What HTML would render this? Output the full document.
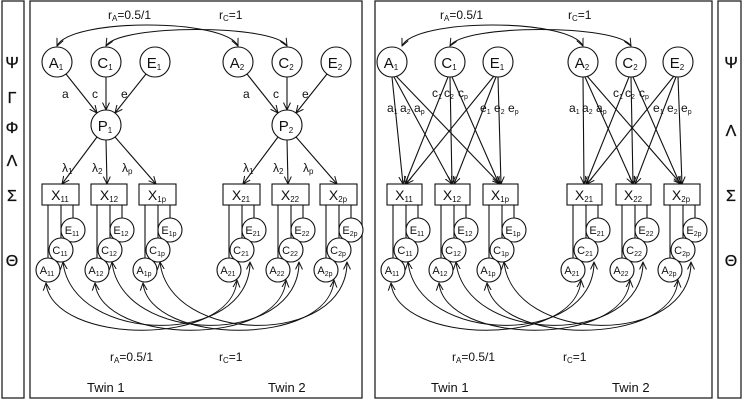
<!DOCTYPE html>
<html><head><meta charset="utf-8"><style>
html,body{margin:0;padding:0;background:#fff}
svg{display:block}
text{font-family:"Liberation Sans","DejaVu Sans",sans-serif;fill:#111}
</style></head><body>
<svg width="743" height="400" viewBox="0 0 743 400" xmlns="http://www.w3.org/2000/svg">
<defs>
<marker id="ar" viewBox="0 0 8 8" refX="7.5" refY="4" markerWidth="8" markerHeight="8" markerUnits="userSpaceOnUse" orient="auto-start-reverse">
<path d="M0,0.5 L7.5,4 L0,7.5" fill="none" stroke="#111" stroke-width="1"/></marker>
</defs>
<g fill="none" stroke="#222" stroke-width="1.3">
<rect x="2" y="1" width="22" height="397"/>
<rect x="30" y="1" width="332" height="397"/>
<rect x="375" y="1" width="337" height="397"/>
<rect x="718" y="1" width="23" height="397"/>
</g>
<g style="font-family:'Liberation Serif','DejaVu Serif',serif" font-size="16" text-anchor="middle" stroke="#111" stroke-width="0.3">
<text x="12" y="68">Ψ</text><text x="12" y="103">Γ</text><text x="12" y="133">Φ</text><text x="12" y="166">Λ</text><text x="12" y="201">Σ</text><text x="12" y="266">Θ</text>
<text x="731" y="68">Ψ</text><text x="731" y="136">Λ</text><text x="731" y="201">Σ</text><text x="731" y="266">Θ</text>
</g>
<g fill="none" stroke="#111" stroke-width="1.1">
<path d="M57,46 C70,18 225,18 238,46" marker-start="url(#ar)" marker-end="url(#ar)"/>
<path d="M106,46 C119,24 274,24 287,46" marker-start="url(#ar)" marker-end="url(#ar)"/>
<path d="M402,46 C415,18 570,18 583,46" marker-start="url(#ar)" marker-end="url(#ar)"/>
<path d="M450,46 C463,24 618,24 631,46" marker-start="url(#ar)" marker-end="url(#ar)"/>
<circle cx="57" cy="62" r="15"/><circle cx="106" cy="62" r="15"/><circle cx="155" cy="62" r="15"/>
<circle cx="238" cy="62" r="15"/><circle cx="287" cy="62" r="15"/><circle cx="336" cy="62" r="15"/>
<circle cx="106" cy="125" r="15"/><circle cx="287" cy="125" r="15"/>
<circle cx="392" cy="62" r="15"/><circle cx="450" cy="62" r="15"/><circle cx="498" cy="62" r="15"/>
<circle cx="583" cy="62" r="15"/><circle cx="631" cy="62" r="15"/><circle cx="678" cy="62" r="15"/>
<path d="M66,74 L97,113" marker-end="url(#ar)"/><path d="M106,77 L106,110" marker-end="url(#ar)"/><path d="M146,74 L115,113" marker-end="url(#ar)"/>
<path d="M247,74 L278,113" marker-end="url(#ar)"/><path d="M287,77 L287,110" marker-end="url(#ar)"/><path d="M327,74 L296,113" marker-end="url(#ar)"/>
<path d="M97,137 L62,184" marker-end="url(#ar)"/><path d="M106,140 L107,184" marker-end="url(#ar)"/><path d="M115,137 L156,184" marker-end="url(#ar)"/>
<path d="M278,137 L243,184" marker-end="url(#ar)"/><path d="M287,140 L288,184" marker-end="url(#ar)"/><path d="M296,137 L337,184" marker-end="url(#ar)"/>
<path d="M392,77 L403,184" marker-end="url(#ar)"/><path d="M394,77 L452,184" marker-end="url(#ar)"/><path d="M396,76 L500,184" marker-end="url(#ar)"/>
<path d="M448,77 L405,184" marker-end="url(#ar)"/><path d="M450,77 L452,184" marker-end="url(#ar)"/><path d="M452,77 L499,184" marker-end="url(#ar)"/>
<path d="M494,76 L406,184" marker-end="url(#ar)"/><path d="M496,77 L454,184" marker-end="url(#ar)"/><path d="M498,77 L501,184" marker-end="url(#ar)"/>
<path d="M583,77 L584,184" marker-end="url(#ar)"/><path d="M585,77 L633,184" marker-end="url(#ar)"/><path d="M587,76 L681,184" marker-end="url(#ar)"/>
<path d="M629,77 L586,184" marker-end="url(#ar)"/><path d="M631,77 L633,184" marker-end="url(#ar)"/><path d="M633,77 L680,184" marker-end="url(#ar)"/>
<path d="M674,76 L587,184" marker-end="url(#ar)"/><path d="M676,77 L635,184" marker-end="url(#ar)"/><path d="M678,77 L682,184" marker-end="url(#ar)"/>
<rect x="42" y="184" width="37" height="21"/><rect x="91" y="184" width="36" height="21"/><rect x="139" y="184" width="37" height="21"/>
<rect x="223" y="184" width="37" height="21"/><rect x="272" y="184" width="37" height="21"/><rect x="320" y="184" width="37" height="21"/>
<rect x="387" y="184" width="35" height="21"/><rect x="435" y="184" width="35" height="21"/><rect x="483" y="184" width="35" height="21"/>
<rect x="567" y="184" width="35" height="21"/><rect x="616" y="184" width="35" height="21"/><rect x="664" y="184" width="36" height="21"/>
</g>
<g fill="none" stroke="#111" stroke-width="1.1">
<path d="M48,258V205M61,238V205M73,218V205 M97,258V205M110,238V205M122,218V205 M145,258V205M158,238V205M170,218V205 M229,258V205M242,238V205M254,218V205 M278,258V205M291,238V205M303,218V205 M326,258V205M339,238V205M351,218V205" />
<path d="M393,258V205M406,238V205M418,218V205 M441,258V205M454,238V205M466,218V205 M489,258V205M502,238V205M514,218V205 M573,258V205M586,238V205M598,218V205 M622,258V205M635,238V205M647,218V205 M670,258V205M683,238V205M695,218V205" />
</g>
<g fill="#fff" stroke="#111" stroke-width="1.1">
<circle cx="73" cy="230" r="12"/><circle cx="61" cy="250" r="12"/><circle cx="48" cy="270" r="12"/>
<circle cx="122" cy="230" r="12"/><circle cx="110" cy="250" r="12"/><circle cx="97" cy="270" r="12"/>
<circle cx="170" cy="230" r="12"/><circle cx="158" cy="250" r="12"/><circle cx="145" cy="270" r="12"/>
<circle cx="254" cy="230" r="12"/><circle cx="242" cy="250" r="12"/><circle cx="229" cy="270" r="12"/>
<circle cx="303" cy="230" r="12"/><circle cx="291" cy="250" r="12"/><circle cx="278" cy="270" r="12"/>
<circle cx="351" cy="230" r="12"/><circle cx="339" cy="250" r="12"/><circle cx="326" cy="270" r="12"/>
<circle cx="418" cy="230" r="12"/><circle cx="406" cy="250" r="12"/><circle cx="393" cy="270" r="12"/>
<circle cx="466" cy="230" r="12"/><circle cx="454" cy="250" r="12"/><circle cx="441" cy="270" r="12"/>
<circle cx="514" cy="230" r="12"/><circle cx="502" cy="250" r="12"/><circle cx="489" cy="270" r="12"/>
<circle cx="598" cy="230" r="12"/><circle cx="586" cy="250" r="12"/><circle cx="573" cy="270" r="12"/>
<circle cx="647" cy="230" r="12"/><circle cx="635" cy="250" r="12"/><circle cx="622" cy="270" r="12"/>
<circle cx="695" cy="230" r="12"/><circle cx="683" cy="250" r="12"/><circle cx="670" cy="270" r="12"/>
</g>
<g fill="none" stroke="#111" stroke-width="1">
<path d="M46,283 C52,345 232,348 237,280" marker-start="url(#ar)" marker-end="url(#ar)"/>
<path d="M63,262 C72,345 250,348 250,262" marker-start="url(#ar)" marker-end="url(#ar)"/>
<path d="M95,283 C101,345 281,348 286,280" marker-start="url(#ar)" marker-end="url(#ar)"/>
<path d="M112,262 C121,345 299,348 299,262" marker-start="url(#ar)" marker-end="url(#ar)"/>
<path d="M143,283 C149,345 329,348 334,280" marker-start="url(#ar)" marker-end="url(#ar)"/>
<path d="M160,262 C169,345 347,348 347,262" marker-start="url(#ar)" marker-end="url(#ar)"/>
<path d="M391,283 C397,345 576,348 581,280" marker-start="url(#ar)" marker-end="url(#ar)"/>
<path d="M408,262 C417,345 594,348 594,262" marker-start="url(#ar)" marker-end="url(#ar)"/>
<path d="M439,283 C445,345 625,348 630,280" marker-start="url(#ar)" marker-end="url(#ar)"/>
<path d="M456,262 C465,345 643,348 643,262" marker-start="url(#ar)" marker-end="url(#ar)"/>
<path d="M487,283 C493,345 673,348 678,280" marker-start="url(#ar)" marker-end="url(#ar)"/>
<path d="M504,262 C513,345 691,348 691,262" marker-start="url(#ar)" marker-end="url(#ar)"/>
</g>
<g font-size="15" text-anchor="middle">
<text x="56" y="68">A<tspan font-size="8" dy="2">1</tspan></text>
<text x="105" y="68">C<tspan font-size="8" dy="2">1</tspan></text>
<text x="154" y="68">E<tspan font-size="8" dy="2">1</tspan></text>
<text x="237" y="68">A<tspan font-size="8" dy="2">2</tspan></text>
<text x="286" y="68">C<tspan font-size="8" dy="2">2</tspan></text>
<text x="335" y="68">E<tspan font-size="8" dy="2">2</tspan></text>
<text x="105" y="131">P<tspan font-size="8" dy="2">1</tspan></text>
<text x="286" y="131">P<tspan font-size="8" dy="2">2</tspan></text>
<text x="391" y="68">A<tspan font-size="8" dy="2">1</tspan></text>
<text x="449" y="68">C<tspan font-size="8" dy="2">1</tspan></text>
<text x="497" y="68">E<tspan font-size="8" dy="2">1</tspan></text>
<text x="582" y="68">A<tspan font-size="8" dy="2">2</tspan></text>
<text x="630" y="68">C<tspan font-size="8" dy="2">2</tspan></text>
<text x="677" y="68">E<tspan font-size="8" dy="2">2</tspan></text>
</g>
<g font-size="14" text-anchor="middle">
<text x="60" y="200">X<tspan font-size="8" dy="2">11</tspan></text>
<text x="109" y="200">X<tspan font-size="8" dy="2">12</tspan></text>
<text x="157" y="200">X<tspan font-size="8" dy="2">1p</tspan></text>
<text x="241" y="200">X<tspan font-size="8" dy="2">21</tspan></text>
<text x="290" y="200">X<tspan font-size="8" dy="2">22</tspan></text>
<text x="338" y="200">X<tspan font-size="8" dy="2">2p</tspan></text>
<text x="404" y="200">X<tspan font-size="8" dy="2">11</tspan></text>
<text x="452" y="200">X<tspan font-size="8" dy="2">12</tspan></text>
<text x="500" y="200">X<tspan font-size="8" dy="2">1p</tspan></text>
<text x="584" y="200">X<tspan font-size="8" dy="2">21</tspan></text>
<text x="633" y="200">X<tspan font-size="8" dy="2">22</tspan></text>
<text x="681" y="200">X<tspan font-size="8" dy="2">2p</tspan></text>
</g>
<g font-size="11" text-anchor="middle">
<text x="72" y="234">E<tspan font-size="7" dy="2">11</tspan></text><text x="60" y="254">C<tspan font-size="7" dy="2">11</tspan></text><text x="47" y="274">A<tspan font-size="7" dy="2">11</tspan></text>
<text x="121" y="234">E<tspan font-size="7" dy="2">12</tspan></text><text x="109" y="254">C<tspan font-size="7" dy="2">12</tspan></text><text x="96" y="274">A<tspan font-size="7" dy="2">12</tspan></text>
<text x="169" y="234">E<tspan font-size="7" dy="2">1p</tspan></text><text x="157" y="254">C<tspan font-size="7" dy="2">1p</tspan></text><text x="144" y="274">A<tspan font-size="7" dy="2">1p</tspan></text>
<text x="253" y="234">E<tspan font-size="7" dy="2">21</tspan></text><text x="241" y="254">C<tspan font-size="7" dy="2">21</tspan></text><text x="228" y="274">A<tspan font-size="7" dy="2">21</tspan></text>
<text x="302" y="234">E<tspan font-size="7" dy="2">22</tspan></text><text x="290" y="254">C<tspan font-size="7" dy="2">22</tspan></text><text x="277" y="274">A<tspan font-size="7" dy="2">22</tspan></text>
<text x="350" y="234">E<tspan font-size="7" dy="2">2p</tspan></text><text x="338" y="254">C<tspan font-size="7" dy="2">2p</tspan></text><text x="325" y="274">A<tspan font-size="7" dy="2">2p</tspan></text>
<text x="417" y="234">E<tspan font-size="7" dy="2">11</tspan></text><text x="405" y="254">C<tspan font-size="7" dy="2">11</tspan></text><text x="392" y="274">A<tspan font-size="7" dy="2">11</tspan></text>
<text x="465" y="234">E<tspan font-size="7" dy="2">12</tspan></text><text x="453" y="254">C<tspan font-size="7" dy="2">12</tspan></text><text x="440" y="274">A<tspan font-size="7" dy="2">12</tspan></text>
<text x="513" y="234">E<tspan font-size="7" dy="2">1p</tspan></text><text x="501" y="254">C<tspan font-size="7" dy="2">1p</tspan></text><text x="488" y="274">A<tspan font-size="7" dy="2">1p</tspan></text>
<text x="597" y="234">E<tspan font-size="7" dy="2">21</tspan></text><text x="585" y="254">C<tspan font-size="7" dy="2">21</tspan></text><text x="572" y="274">A<tspan font-size="7" dy="2">21</tspan></text>
<text x="646" y="234">E<tspan font-size="7" dy="2">22</tspan></text><text x="634" y="254">C<tspan font-size="7" dy="2">22</tspan></text><text x="621" y="274">A<tspan font-size="7" dy="2">22</tspan></text>
<text x="694" y="234">E<tspan font-size="7" dy="2">2p</tspan></text><text x="682" y="254">C<tspan font-size="7" dy="2">2p</tspan></text><text x="669" y="274">A<tspan font-size="7" dy="2">2p</tspan></text>
</g>
<g font-size="12">
<text x="62" y="98">a</text><text x="92" y="98">c</text><text x="121" y="98">e</text>
<text x="243" y="98">a</text><text x="273" y="98">c</text><text x="302" y="98">e</text>
<text x="62" y="172">λ<tspan font-size="8" dy="2">1</tspan></text><text x="92" y="172">λ<tspan font-size="8" dy="2">2</tspan></text><text x="122" y="172">λ<tspan font-size="8" dy="2">p</tspan></text>
<text x="243" y="172">λ<tspan font-size="8" dy="2">1</tspan></text><text x="273" y="172">λ<tspan font-size="8" dy="2">2</tspan></text><text x="303" y="172">λ<tspan font-size="8" dy="2">p</tspan></text>
<text x="387" y="112">a<tspan font-size="7" dy="2">1</tspan></text><text x="400" y="112">a<tspan font-size="7" dy="2">2</tspan></text><text x="414" y="112">a<tspan font-size="7" dy="2">p</tspan></text>
<text x="432" y="97">c<tspan font-size="7" dy="2">1</tspan></text><text x="444" y="97">c<tspan font-size="7" dy="2">2</tspan></text><text x="458" y="97">c<tspan font-size="7" dy="2">p</tspan></text>
<text x="480" y="112">e<tspan font-size="7" dy="2">1</tspan></text><text x="494" y="112">e<tspan font-size="7" dy="2">2</tspan></text><text x="508" y="112">e<tspan font-size="7" dy="2">p</tspan></text>
<text x="569" y="112">a<tspan font-size="7" dy="2">1</tspan></text><text x="582" y="112">a<tspan font-size="7" dy="2">2</tspan></text><text x="596" y="112">a<tspan font-size="7" dy="2">p</tspan></text>
<text x="613" y="97">c<tspan font-size="7" dy="2">1</tspan></text><text x="625" y="97">c<tspan font-size="7" dy="2">2</tspan></text><text x="639" y="97">c<tspan font-size="7" dy="2">p</tspan></text>
<text x="653" y="112">e<tspan font-size="7" dy="2">1</tspan></text><text x="667" y="112">e<tspan font-size="7" dy="2">2</tspan></text><text x="681" y="112">e<tspan font-size="7" dy="2">p</tspan></text>
</g>
<g font-size="12">
<text x="108" y="19">r<tspan font-size="8" dy="2">A</tspan><tspan dy="-2">=0.5/1</tspan></text>
<text x="219" y="19">r<tspan font-size="8" dy="2">C</tspan><tspan dy="-2">=1</tspan></text>
<text x="110" y="361">r<tspan font-size="8" dy="2">A</tspan><tspan dy="-2">=0.5/1</tspan></text>
<text x="219" y="361">r<tspan font-size="8" dy="2">C</tspan><tspan dy="-2">=1</tspan></text>
<text x="440" y="19">r<tspan font-size="8" dy="2">A</tspan><tspan dy="-2">=0.5/1</tspan></text>
<text x="568" y="19">r<tspan font-size="8" dy="2">C</tspan><tspan dy="-2">=1</tspan></text>
<text x="452" y="361">r<tspan font-size="8" dy="2">A</tspan><tspan dy="-2">=0.5/1</tspan></text>
<text x="563" y="361">r<tspan font-size="8" dy="2">C</tspan><tspan dy="-2">=1</tspan></text>
</g>
<g font-size="13">
<text x="87" y="392">Twin 1</text><text x="268" y="392">Twin 2</text>
<text x="431" y="392">Twin 1</text><text x="612" y="392">Twin 2</text>
</g>
</svg>
</body></html>
